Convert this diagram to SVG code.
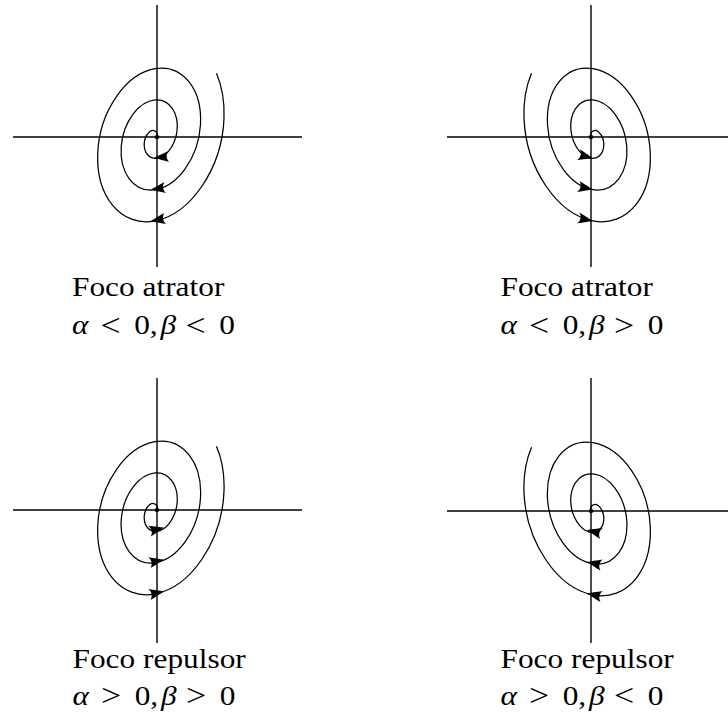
<svg xmlns="http://www.w3.org/2000/svg" xmlns:xlink="http://www.w3.org/1999/xlink" width="728" height="713" viewBox="0 0 728 713">
<style>
.ax{stroke:#000;stroke-width:1.4;fill:none}
.sp{stroke:#000;stroke-width:1.25;fill:none;vector-effect:non-scaling-stroke}
.ah{fill:#000;stroke:none}
.t{font-family:"Liberation Serif","Times New Roman",serif;font-size:28px;fill:#000}
.m{font-style:italic}
.r{font-size:32px}
</style>
<defs>
<path id="sp" class="sp" d="M61.45 -35.48 A69.98 69.98 0 0 1 69 0 A67.53 67.53 0 0 1 46.71 46.71 A64.59 64.59 0 0 1 0 63.12 A61.65 61.65 0 0 1 -42.55 42.55 A58.72 58.72 0 0 1 -57.25 0 A55.78 55.78 0 0 1 -38.4 -38.4 A52.84 52.84 0 0 1 0 -51.37 A49.9 49.9 0 0 1 34.24 -34.24 A46.96 46.96 0 0 1 45.49 0 A44.02 44.02 0 0 1 30.09 30.09 A41.08 41.08 0 0 1 0 39.61 A38.15 38.15 0 0 1 -25.94 25.94 A35.21 35.21 0 0 1 -33.74 0 A32.27 32.27 0 0 1 -21.78 -21.78 A29.33 29.33 0 0 1 0 -27.86 A26.39 26.39 0 0 1 17.62 -17.62 A23.45 23.45 0 0 1 21.98 0 A20.52 20.52 0 0 1 13.47 13.47 A17.58 17.58 0 0 1 0 16.11 A14.64 14.64 0 0 1 -9.31 9.31 A11.7 11.7 0 0 1 -10.23 0 A8.76 8.76 0 0 1 -5.15 -5.15 A5.82 5.82 0 0 1 0 -4.35 A3.6 3.6 0 0 1 2 0.4"/>
<path id="ah" class="ah" d="M0 0 C-3.5 -1.2 -9 -3.5 -15 -5.6 C-12 -2.2 -12 2.2 -15 5.6 C-9 3.5 -3.5 1.2 0 0 Z"/>
</defs>

<g id="panel-tl">
<line class="ax" x1="157" y1="5" x2="157" y2="267"/>
<line class="ax" x1="13" y1="137" x2="302" y2="137"/>
<use xlink:href="#sp" href="#sp" transform="matrix(1 -0.27 0 1.33 155 137)"/>
<circle cx="157" cy="137" r="2.2"/>
<use xlink:href="#ah" href="#ah" transform="translate(150.5 221.2) rotate(170)"/>
<use xlink:href="#ah" href="#ah" transform="translate(150.5 189.8) rotate(171)"/>
<use xlink:href="#ah" href="#ah" transform="translate(154 157.8) rotate(175)"/>
<g transform="translate(72 0) scale(1.12 1)">
<text class="t" x="0" y="296">Foco atrator</text>
<text class="t" y="334"><tspan class="m" x="0">α</tspan><tspan class="r" x="25.5" y="336">&lt;</tspan><tspan x="55.6" y="334">0</tspan><tspan x="69.5">,</tspan><tspan class="m" x="79">β</tspan><tspan class="r" x="101.4" y="336">&lt;</tspan><tspan x="131.4" y="334">0</tspan></text>
</g>
</g>

<g id="panel-tr">
<line class="ax" x1="591" y1="5" x2="591" y2="267"/>
<line class="ax" x1="447" y1="137" x2="728" y2="137"/>
<use xlink:href="#sp" href="#sp" transform="matrix(-1 -0.27 0 1.33 593 137)"/>
<circle cx="591" cy="137" r="2.2"/>
<use xlink:href="#ah" href="#ah" transform="translate(593 221) rotate(12)"/>
<use xlink:href="#ah" href="#ah" transform="translate(593 189.6) rotate(12)"/>
<use xlink:href="#ah" href="#ah" transform="translate(593 158.2) rotate(14)"/>
<g transform="translate(500.5 0) scale(1.12 1)">
<text class="t" x="0" y="296">Foco atrator</text>
<text class="t" y="334"><tspan class="m" x="0">α</tspan><tspan class="r" x="25.5" y="336">&lt;</tspan><tspan x="55.6" y="334">0</tspan><tspan x="69.5">,</tspan><tspan class="m" x="79">β</tspan><tspan class="r" x="101.4" y="336">&gt;</tspan><tspan x="131.4" y="334">0</tspan></text>
</g>
</g>

<g id="panel-bl">
<line class="ax" x1="157" y1="378" x2="157" y2="643"/>
<line class="ax" x1="13" y1="510" x2="302" y2="510"/>
<use xlink:href="#sp" href="#sp" transform="matrix(1 -0.27 0 1.33 155 510)"/>
<circle cx="157" cy="510" r="2.2"/>
<use xlink:href="#ah" href="#ah" transform="translate(164 591.4) rotate(-12)"/>
<use xlink:href="#ah" href="#ah" transform="translate(164 559.5) rotate(-12)"/>
<use xlink:href="#ah" href="#ah" transform="translate(164 527.5) rotate(-14)"/>
<g transform="translate(72.5 0) scale(1.12 1)">
<text class="t" x="0" y="668">Foco repulsor</text>
<text class="t" y="705"><tspan class="m" x="0">α</tspan><tspan class="r" x="25.5" y="706">&gt;</tspan><tspan x="55.6" y="705">0</tspan><tspan x="69.5">,</tspan><tspan class="m" x="79">β</tspan><tspan class="r" x="101.4" y="706">&gt;</tspan><tspan x="131.4" y="705">0</tspan></text>
</g>
</g>

<g id="panel-br">
<line class="ax" x1="591" y1="378" x2="591" y2="643"/>
<line class="ax" x1="447" y1="511" x2="728" y2="511"/>
<use xlink:href="#sp" href="#sp" transform="matrix(-1 -0.27 0 1.33 593 511)"/>
<circle cx="591" cy="511" r="2.2"/>
<use xlink:href="#ah" href="#ah" transform="translate(587 593.4) rotate(192)"/>
<use xlink:href="#ah" href="#ah" transform="translate(587 561.9) rotate(192)"/>
<use xlink:href="#ah" href="#ah" transform="translate(587 529.9) rotate(194)"/>
<g transform="translate(500.5 0) scale(1.12 1)">
<text class="t" x="0" y="668">Foco repulsor</text>
<text class="t" y="705"><tspan class="m" x="0">α</tspan><tspan class="r" x="25.5" y="706">&gt;</tspan><tspan x="55.6" y="705">0</tspan><tspan x="69.5">,</tspan><tspan class="m" x="79">β</tspan><tspan class="r" x="101.4" y="706">&lt;</tspan><tspan x="131.4" y="705">0</tspan></text>
</g>
</g>
</svg>
